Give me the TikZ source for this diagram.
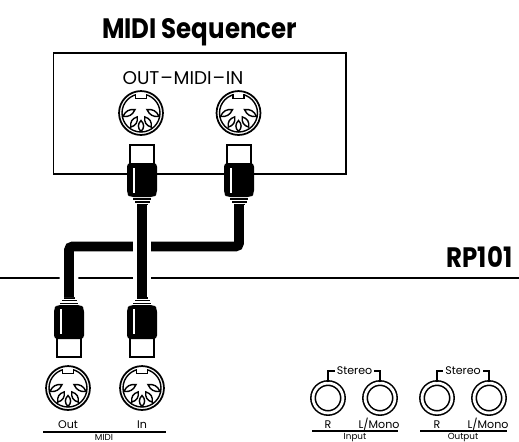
\documentclass[tikz,border=0pt]{standalone}
\usepackage{fontspec}
\setmainfont{Poppins}
\newfontfamily\titlefont[FakeStretch=0.87]{Poppins}
\usetikzlibrary{
    positioning,
    calc
}
\tikzset{
    cablewire/.style={line width=5.6pt, rounded corners=2pt, preaction={draw=white, line width=10.8pt}},
    panelline/.style={line width=0.9pt},
    ruleline/.style={line width=1.1pt},
    titlelabel/.style={font=\fontsize{16}{18}\selectfont\titlefont\bfseries, inner sep=0pt, anchor=base},
    portlabel/.style={font=\fontsize{6.3}{7}\selectfont, inner sep=0pt, anchor=base},
    stereolabel/.style={font=\fontsize{6.3}{7}\selectfont, inner sep=1pt},
    grouplabel/.style={font=\fontsize{5}{6}\selectfont, inner sep=0pt, anchor=base},
    bracketline/.style={line width=1.1pt},
    phonejack/.style={circle, draw, double, line width=0.9pt, double distance=1.6pt, minimum size=17pt, inner sep=0pt},
    midiplug/.pic={
        \draw[fill=white, line width=1pt] (-12,0) rectangle (12,20);
        \fill[rounded corners=2pt] (-15,18) -- (15,18) -- (15,49) -- (12,52) -- (-12,52) -- (-15,49) -- cycle;
        \fill[white] (-9.5,23) rectangle (-7.5,48);
        \fill (-9,53) rectangle (9,54.5);
        \fill (-7.5,56) rectangle (7.5,57.5);
        \fill (-5.5,58.5) rectangle (5.5,61);
        \coordinate (-end) at (0,60);
    },
    dinjack/.pic={
        \node[circle, draw, line width=1pt, minimum size=25pt, inner sep=0pt] (-ring) at (0,0) {};
        \draw[line width=0.8pt] (-19,0) arc[start angle=180, delta angle=-360, radius=19];
        \fill[white] (-5,-20) rectangle (5,-15);
        \draw[line width=0.8pt] (-5.5,-19) -- (-5.5,-14.5) -- (5.5,-14.5) -- (5.5,-19);
        \foreach \pinx/\piny/\pinturn/\pinlong in {-12/0/30/7, 12/0/150/7, -7/9/58/6, 7/9/122/6, 0/13/90/5.5}{
            \begin{scope}[shift={(\pinx,\piny)}, rotate=\pinturn]
                \draw[fill=white, line width=0.8pt] (-\pinlong,0) .. controls (-2,-3.5) and (2,-3.5) .. (\pinlong,0) .. controls (2,3.5) and (-2,3.5) .. (-\pinlong,0) -- cycle;
            \end{scope}
        }
    }
}

\begin{document}
\begin{tikzpicture}[x=0.02cm, y=-0.02cm]
    \useasboundingbox (0,0) rectangle (519,441);

    \node[titlelabel] (seqtitle) at (199.5,38) {MIDI Sequencer};
    \draw[panelline] (53.5,53) rectangle (346,174);
    \node[font=\fontsize{10.5}{12}\selectfont, inner sep=0pt] (seqlabel) at (183,78) {OUT\kern.5pt–\kern.5pt MIDI\kern.5pt–\kern.5pt IN};

    \pic (seqoutjack) at (141,113) {dinjack};
    \pic (seqinjack) at (238.5,113) {dinjack};

    \node[titlelabel] (pianotitle) at (479.5,267) {RP101};
    \draw[panelline] (0,278) -- (519,278);

    \pic (seqoutplug) at (142,145) {midiplug};
    \pic (seqinplug) at (239,145) {midiplug};
    \pic[yscale=-1] (midioutplug) at (69,357) {midiplug};
    \pic[yscale=-1] (midiinplug) at (142,357) {midiplug};

    \coordinate (crossing) at (142,246.5);
    \draw[cablewire] (seqinplug-end) |- (crossing) -| (midioutplug-end);
    \draw[cablewire] (seqoutplug-end) -- (midiinplug-end);

    \pic (midioutjack) at (68,388) {dinjack};
    \pic (midiinjack) at (142,388) {dinjack};
    \node[portlabel] (outlabel) at (68,428.5) {Out};
    \node[portlabel] (inlabel) at (142,428.5) {In};
    \draw[ruleline] (43,432) -- (166,432);
    \node[grouplabel] (midilabel) at (104,440) {MIDI};

    \node[phonejack] (inputr) at (328,398) {};
    \node[phonejack] (inputl) at (380,398) {};
    \node[phonejack] (outputr) at (437,398) {};
    \node[phonejack] (outputl) at (489,398) {};

    \node[stereolabel] (stereoinput) at (354.5,371) {Stereo};
    \node[stereolabel] (stereooutput) at (463,371) {Stereo};
    \draw[bracketline] (inputr.north) |- (stereoinput.west);
    \draw[bracketline] (inputl.north) |- (stereoinput.east);
    \draw[bracketline] (outputr.north) |- (stereooutput.west);
    \draw[bracketline] (outputl.north) |- (stereooutput.east);

    \node[portlabel] (inputrlabel) at (328,428.5) {R};
    \node[portlabel] (inputllabel) at (379,428.5) {L/Mono};
    \node[portlabel] (outputrlabel) at (437,428.5) {R};
    \node[portlabel] (outputllabel) at (488,428.5) {L/Mono};
    \draw[ruleline] (312,431) -- (398,431);
    \draw[ruleline] (420,431) -- (507,431);
    \node[grouplabel] (inputlabel) at (355,439) {Input};
    \node[grouplabel] (outputlabel) at (463,439) {Output};
\end{tikzpicture}
\end{document}
